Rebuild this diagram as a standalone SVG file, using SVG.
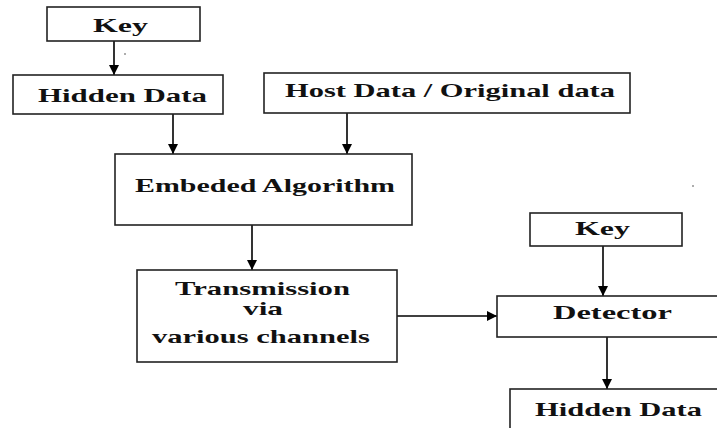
<svg xmlns="http://www.w3.org/2000/svg" width="717" height="428" viewBox="0 0 717 428">
<style>
.box{fill:#fff;stroke:#222;stroke-width:1.6}
.t{font-weight:bold;font-size:19px;fill:#111}
.c{stroke:#000;stroke-width:1.6;fill:none}
</style>
<defs>
<marker id="ah" viewBox="0 0 10 10" refX="10" refY="5" markerWidth="10" markerHeight="10" markerUnits="userSpaceOnUse" orient="auto">
<path d="M0,0 L10,5 L0,10 z" fill="#000"/>
</marker>
</defs>
<rect width="717" height="428" fill="#fff"/>
<g id="connectors">
<line class="c" x1="114" y1="41" x2="114" y2="75" marker-end="url(#ah)"/>
<line class="c" x1="173" y1="114" x2="173" y2="154" marker-end="url(#ah)"/>
<line class="c" x1="347" y1="113" x2="347" y2="154" marker-end="url(#ah)"/>
<line class="c" x1="252" y1="225" x2="252" y2="270" marker-end="url(#ah)"/>
<line class="c" x1="397" y1="316" x2="497" y2="316" marker-end="url(#ah)"/>
<line class="c" x1="603" y1="246" x2="603" y2="296" marker-end="url(#ah)"/>
<line class="c" x1="607" y1="337" x2="607" y2="389" marker-end="url(#ah)"/>
</g>
<g font-family="Liberation Serif, serif">
<g id="key1">
<rect class="box" x="47" y="7" width="153" height="34"/>
<text class="t" x="93" y="32" textLength="55" lengthAdjust="spacingAndGlyphs">Key</text>
</g>
<circle cx="125" cy="54" r="0.8" fill="#444"/>
<g id="hidden1">
<rect class="box" x="13" y="75" width="210" height="39"/>
<text class="t" x="38" y="102" textLength="169" lengthAdjust="spacingAndGlyphs">Hidden Data</text>
</g>
<g id="host">
<rect class="box" x="264" y="73" width="366" height="40"/>
<text class="t" x="285" y="97" textLength="330" lengthAdjust="spacingAndGlyphs">Host Data / Original data</text>
</g>
<g id="embed">
<rect class="box" x="115" y="154" width="297" height="71"/>
<text class="t" x="135" y="192" textLength="260" lengthAdjust="spacingAndGlyphs">Embeded Algorithm</text>
</g>
<circle cx="693" cy="186" r="0.8" fill="#444"/>
<g id="transmission">
<rect class="box" x="137" y="270" width="260" height="92"/>
<text class="t" x="175" y="295" textLength="175" lengthAdjust="spacingAndGlyphs">Transmission</text>
<text class="t" x="243" y="315" textLength="40" lengthAdjust="spacingAndGlyphs">via</text>
<text class="t" x="152" y="343" textLength="218" lengthAdjust="spacingAndGlyphs">various channels</text>
</g>
<g id="key2">
<rect class="box" x="530" y="213" width="152" height="33"/>
<text class="t" x="575" y="235" textLength="55" lengthAdjust="spacingAndGlyphs">Key</text>
</g>
<g id="detector">
<rect class="box" x="497" y="296" width="225" height="41"/>
<text class="t" x="553" y="319" textLength="119" lengthAdjust="spacingAndGlyphs">Detector</text>
</g>
<g id="hidden2">
<rect class="box" x="510" y="389" width="215" height="45"/>
<text class="t" x="535" y="416" textLength="167" lengthAdjust="spacingAndGlyphs">Hidden Data</text>
</g>
</g>
</svg>
